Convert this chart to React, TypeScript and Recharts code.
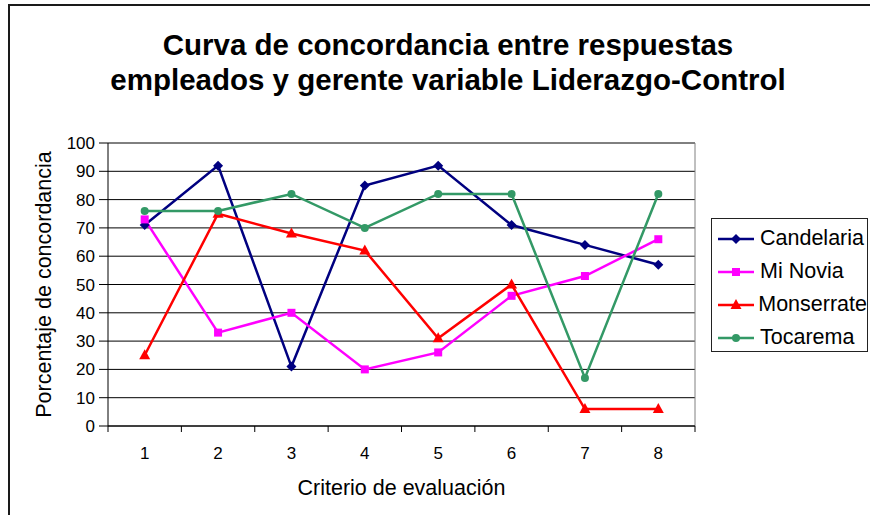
import React from 'react';
import { LineChart, Line, XAxis, YAxis, CartesianGrid, Legend, ReferenceLine } from 'recharts';

const criterios = [1, 2, 3, 4, 5, 6, 7, 8];
const candelaria = [71, 92, 21, 85, 92, 71, 64, 57];
const miNovia = [73, 33, 40, 20, 26, 46, 53, 66];
const monserrate = [25, 75, 68, 62, 31, 50, 6, 6];
const tocarema = [76, 76, 82, 70, 82, 82, 17, 82];
const yTicks = [0, 10, 20, 30, 40, 50, 60, 70, 80, 90, 100];

// tick marks sit between categories, like the original spreadsheet chart
const xBounds = [...criterios.map((c) => c - 0.5), criterios[criterios.length - 1] + 0.5];

const series = [
  { key: 'candelaria', name: 'Candelaria', color: '#000080', shape: 'diamond' },
  { key: 'miNovia', name: 'Mi Novia', color: '#FF00FF', shape: 'square' },
  { key: 'monserrate', name: 'Monserrate', color: '#FF0000', shape: 'triangle' },
  { key: 'tocarema', name: 'Tocarema', color: '#339966', shape: 'circle' },
];

const data = criterios.map((c, i) => ({
  criterio: c,
  candelaria: candelaria[i],
  miNovia: miNovia[i],
  monserrate: monserrate[i],
  tocarema: tocarema[i],
}));

const FONT = '"Liberation Sans", Arial, sans-serif';
const MAIN_X = 'a-main';
const LABEL_X = 'b-labels';

function Marker({ cx, cy, shape, color }: { cx: number; cy: number; shape: string; color: string }) {
  if (cx == null || cy == null) return null;
  if (shape === 'diamond') {
    const s = 5;
    return <polygon points={`${cx},${cy - s} ${cx + s},${cy} ${cx},${cy + s} ${cx - s},${cy}`} fill={color} />;
  }
  if (shape === 'square') {
    return <rect x={cx - 4} y={cy - 4} width={8} height={8} fill={color} />;
  }
  if (shape === 'triangle') {
    return <polygon points={`${cx},${cy - 6} ${cx + 5.5},${cy + 4} ${cx - 5.5},${cy + 4}`} fill={color} />;
  }
  return <circle cx={cx} cy={cy} r={4} fill={color} />;
}

const renderYLabel = (props: any) => {
  const { x, y, height } = props.viewBox;
  const lx = x + 44;
  const ly = y + height / 2;
  return (
    <text x={lx} y={ly} transform={`rotate(-90, ${lx}, ${ly})`} textAnchor="middle" dominantBaseline="central" fontSize={21.5} fill="#000">
      Porcentaje de concordancia
    </text>
  );
};

const renderXLabel = (props: any) => {
  const { x, y, width } = props.viewBox;
  return (
    <text x={x + width / 2} y={y + 54} textAnchor="middle" dominantBaseline="central" fontSize={21.5} fill="#000">
      Criterio de evaluación
    </text>
  );
};

const renderLegend = (props: any) => {
  const payload = props.payload || [];
  return (
    <div
      style={{
        border: '1px solid #222',
        boxSizing: 'border-box',
        width: 157,
        height: 134,
        background: '#fff',
        paddingTop: 3,
        paddingLeft: 6,
        fontFamily: FONT,
      }}
    >
      {payload.map((entry: any) => {
        const s = series.find((d) => d.name === entry.value);
        const color = s ? s.color : entry.color;
        return (
          <div key={entry.value} style={{ display: 'flex', alignItems: 'center', height: 33 }}>
            <svg width={42} height={20}>
              <line x1={0} y1={10} x2={36} y2={10} stroke={color} strokeWidth={2.5} />
              <Marker cx={18} cy={10} shape={s ? s.shape : 'circle'} color={color} />
            </svg>
            <span style={{ fontSize: 21.5, color: '#000', whiteSpace: 'nowrap' }}>{entry.value}</span>
          </div>
        );
      })}
    </div>
  );
};

export default function App() {
  return (
    <div style={{ position: 'relative', width: 870, height: 515, overflow: 'hidden', background: '#fff', fontFamily: FONT }}>
      <style>{'body{margin:0}'}</style>
      <div
        style={{
          position: 'absolute',
          left: 8,
          top: 4,
          width: 900,
          height: 600,
          border: '2px solid #1a1a1a',
        }}
      />
      <div
        style={{
          position: 'absolute',
          left: 0,
          top: 27,
          width: 896,
          textAlign: 'center',
          fontWeight: 'bold',
          fontSize: 29.5,
          lineHeight: '35px',
          color: '#000',
        }}
      >
        Curva de concordancia entre respuestas
        <br />
        empleados y gerente variable Liderazgo-Control
      </div>
      <div style={{ position: 'absolute', left: 0, top: 0 }}>
        {/* the legend reserves its own 157px on the right, so the margin only holds the rest */}
        <LineChart width={870} height={515} data={data} margin={{ top: 143, right: 18, bottom: 0, left: 0 }}>
          <CartesianGrid xAxisId={MAIN_X} vertical={false} stroke="#000" strokeOpacity={1} />
          <XAxis
            xAxisId={MAIN_X}
            type="number"
            dataKey="criterio"
            domain={[0.5, 8.5]}
            ticks={xBounds}
            interval={0}
            tickFormatter={() => ''}
            tickSize={6}
            height={8}
            axisLine={{ stroke: '#000' }}
            tickLine={{ stroke: '#000' }}
          />
          <XAxis
            xAxisId={LABEL_X}
            type="number"
            dataKey="criterio"
            domain={[0.5, 8.5]}
            ticks={criterios}
            interval={0}
            axisLine={false}
            tickLine={false}
            tickSize={0}
            tickMargin={13}
            height={81}
            tick={{ fontSize: 17, fill: '#000' }}
            label={renderXLabel}
          />
          <YAxis
            domain={[0, 100]}
            ticks={yTicks}
            interval={0}
            width={108}
            tickSize={9}
            tickMargin={4}
            tick={{ fontSize: 17, fill: '#000' }}
            axisLine={{ stroke: '#000' }}
            tickLine={{ stroke: '#000' }}
            label={renderYLabel}
          />
          <ReferenceLine xAxisId={MAIN_X} y={100} stroke="#808080" />
          <ReferenceLine xAxisId={MAIN_X} x={8.5} stroke="#808080" />
          <Legend
            layout="vertical"
            verticalAlign="top"
            align="right"
            content={renderLegend}
            wrapperStyle={{ left: 711, top: 218, width: 157, height: 134 }}
          />
          {series.map((s) => (
            <Line
              key={s.key}
              xAxisId={MAIN_X}
              type="linear"
              dataKey={s.key}
              name={s.name}
              stroke={s.color}
              strokeWidth={2.5}
              isAnimationActive={false}
              dot={(p: any) => <Marker key={`${s.key}-${p.index}`} cx={p.cx} cy={p.cy} shape={s.shape} color={s.color} />}
              activeDot={false}
            />
          ))}
        </LineChart>
      </div>
    </div>
  );
}
